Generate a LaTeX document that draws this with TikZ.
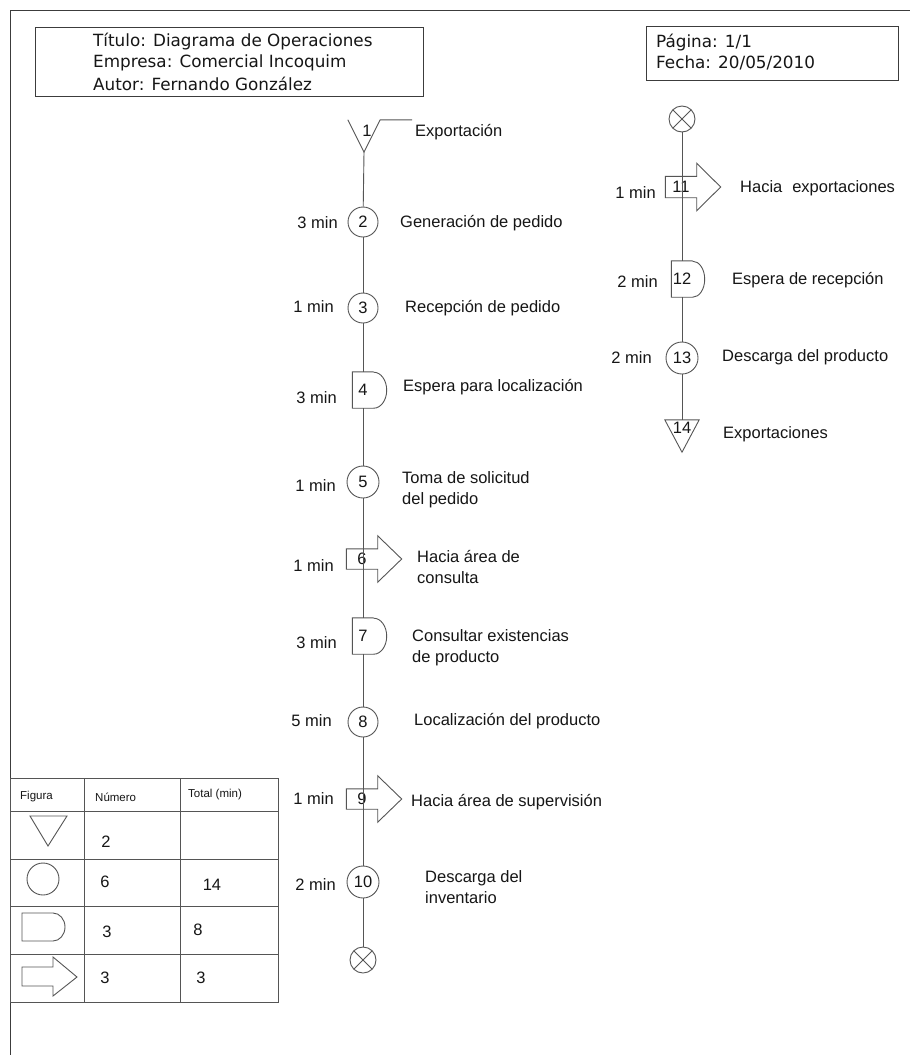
\documentclass[tikz,border=0pt]{standalone}
\usepackage{fontspec}
\setmainfont{Liberation Sans}
\newfontfamily\hdrfont{DejaVu Sans}
\usetikzlibrary{calc}
\definecolor{ln}{HTML}{555555}
\definecolor{fr}{HTML}{3C3C3C}
\definecolor{tx}{HTML}{161616}
\newcommand\Dshape[3]{\draw[shp] (#1.north east) -- (#1.north west) -- (#1.south west) -- (#1.south east) arc[start angle=-90,end angle=90,x radius=#2,y radius=#3];}
\newcommand\Ashape[1]{\draw[shp] (#1.north east) -- (#1.north west) -- (#1.south west) -- (#1.south east) -- ++(0,-13) -- ($(#1.east)+(24,0)$) -- ($(#1.north east)+(0,13)$) -- cycle;}
\begin{document}
\begin{tikzpicture}[x=1pt,y=1pt,
  every node/.style={text=tx, inner sep=0pt, font=\fontsize{16.5}{21}\selectfont},
  shp/.style={draw=ln, line width=0.9pt},
  flow/.style={draw=ln, line width=0.9pt},
  frm/.style={draw=fr, line width=1pt},
  op/.style={circle, shp, minimum size=30pt},
  fin/.style={circle, shp, minimum size=26pt, path picture={\draw[ln,line width=0.9pt] (path picture bounding box.north west) -- (path picture bounding box.south east) (path picture bounding box.north east) -- (path picture bounding box.south west);}},
  dem/.style={minimum width=21pt, minimum height=36pt},
  trn/.style={minimum width=31pt, minimum height=20pt},
  lt/.style={anchor=east},
  rt/.style={anchor=west, align=left},
  hdr/.style={anchor=west, font=\hdrfont\fontsize{16.8}{20}\selectfont},
  sm/.style={anchor=west, font=\fontsize{11.5}{14}\selectfont},
]
\useasboundingbox (0,0) rectangle (910,-1055);
\fill[white] (0,0) rectangle (910,-1055);
% frame and header boxes
\draw[frm] (10,-1055) -- (10,-10) -- (910,-10);
\draw[frm] (35,-27) rectangle (423,-96);
\draw[frm] (646,-26) rectangle (898,-80);
\node[hdr] (h1) at (93,-42) {Título: Diagrama de Operaciones};
\node[hdr] (h2) at (93,-63) {Empresa: Comercial Incoquim};
\node[hdr] (h3) at (93,-84) {Autor: Fernando González};
\node[hdr] (h4) at (656,-43) {Página: 1/1};
\node[hdr] (h5) at (656,-63) {Fecha: 20/05/2010};

% main flow nodes
\node[minimum width=32pt, minimum height=32pt] (t1) at (364,-136) {};
\draw[shp] (t1.north west) -- (t1.south) -- (t1.north east) -- ++(32,0);
\node (n1) at (367,-131) {1};
\node[op] (c2) at (363,-222) {2};
\node[op] (c3) at (363,-308) {3};
\node[dem] (d4) at (363,-390) {4};
\node[op, minimum size=32pt] (c5) at (363,-482) {5};
\node[trn] (a6) at (362,-559) {6};
\node[dem] (d7) at (363,-636) {7};
\node[op] (c8) at (363,-722) {8};
\node[trn] (a9) at (362,-799) {9};
\node[op, minimum size=32pt] (c10) at (363,-882) {10};
\node[fin] (x1) at (363,-960) {};

\draw[flow] (t1.south) -- (c2);
\draw[flow] (c2) -- (c3);
\draw[flow] (c3) -- (d4);
\draw[flow] (d4) -- (c5);
\draw[flow] (c5) -- (d7);
\draw[flow] (d7) -- (c8);
\draw[flow] (c8) -- (c10);
\draw[flow] (c10) -- (x1);
\Dshape{d4}{13}{18}
\Dshape{d7}{13}{18}
\Ashape{a6}
\Ashape{a9}

% main flow labels
\node[rt] (l1) at (415,-132) {Exportación};
\node[lt] (m2) at (338,-223) {3 min};
\node[rt] (l2) at (400,-223) {Generación de pedido};
\node[lt] (m3) at (334,-307) {1 min};
\node[rt] (l3) at (405,-308) {Recepción de pedido};
\node[lt] (m4) at (337,-398) {3 min};
\node[rt] (l4) at (403,-387) {Espera para localización};
\node[lt] (m5) at (336,-486) {1 min};
\node[rt] (l5) at (402,-490) {Toma de solicitud\\del pedido};
\node[lt] (m6) at (334,-566) {1 min};
\node[rt] (l6) at (417,-567) {Hacia área de\\consulta};
\node[lt] (m7) at (337,-643) {3 min};
\node[rt] (l7) at (412,-648) {Consultar existencias\\de producto};
\node[lt] (m8) at (332,-721) {5 min};
\node[rt] (l8) at (414,-721) {Localización del producto};
\node[lt] (m9) at (334,-799) {1 min};
\node[rt] (l9) at (411,-802) {Hacia área de supervisión};
\node[lt] (m10) at (336,-885) {2 min};
\node[rt] (l10) at (425,-887) {Descarga del\\inventario};

% right flow
\node[fin] (x2) at (682,-119) {};
\node[trn, minimum height=21pt] (a11) at (681,-187) {11};
\node[dem] (d12) at (682,-279) {12};
\node[op, minimum size=32pt] (c13) at (682,-358) {13};
\node[minimum width=34pt, minimum height=32pt] (t14) at (682,-436) {};
\node (n14) at (682,-428) {14};
\draw[flow] (x2) -- (d12);
\draw[flow] (d12) -- (c13);
\draw[flow] (c13) -- (t14.north);
\Ashape{a11}
\Dshape{d12}{12}{18}
\draw[shp] (t14.north west) -- (t14.north east) -- (t14.south) -- cycle;

\node[lt] (m11) at (656,-193) {1 min};
\node[rt] (l11) at (740,-188) {Hacia\hspace{0.6em}exportaciones};
\node[lt] (m12) at (658,-282) {2 min};
\node[rt] (l12) at (732,-280) {Espera de recepción};
\node[lt] (m13) at (652,-358) {2 min};
\node[rt] (l13) at (722,-357) {Descarga del producto};
\node[rt] (l14) at (723,-434) {Exportaciones};

% summary table
\draw[shp] (10,-778) rectangle (278,-1002);
\foreach \yy in {811,859,906,954} \draw[shp] (10,-\yy) -- (278,-\yy);
\draw[shp] (84,-778) -- (84,-1002);
\draw[shp] (180,-778) -- (180,-1002);
\node[sm] (th1) at (20,-797) {Figura};
\node[sm] (th2) at (95,-797) {Número};
\node[sm] (th3) at (188,-795) {Total (min)};
\draw[shp] (30,-816) -- (67,-816) -- (48,-846) -- cycle;
\draw[shp] (43,-879) circle[radius=16];
\draw[shp] (53,-913) -- (22,-913) -- (22,-941) -- (53,-941) arc[start angle=-90,end angle=90,x radius=12,y radius=14];
\draw[shp] (53,-967) -- (22,-967) -- (22,-986) -- (53,-986) -- (53,-996) -- (77,-977) -- (53,-957) -- cycle;
\node (r1) at (106,-842) {2};
\node (r2) at (105,-882) {6};
\node (r3) at (212,-885) {14};
\node (r4) at (107,-932) {3};
\node (r5) at (198,-930) {8};
\node (r6) at (105,-978) {3};
\node (r7) at (201,-978) {3};
\end{tikzpicture}
\end{document}
